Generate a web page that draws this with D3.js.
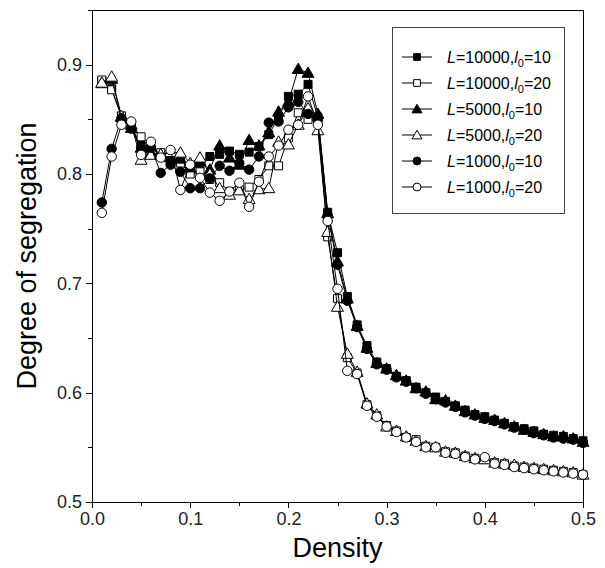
<!DOCTYPE html>
<html lang="en">
	<head>
		<meta charset="utf-8">
		<title>Degree of segregation vs density</title>
		<style type="text/css">
			body {
				margin: 0;
				background-color: white;
				font-family: Arial, "Liberation Sans", sans-serif;
			}
			svg {
				display: block;
				background-color: white;
			}
			.axis path,
			.axis line {
				fill: none;
				stroke: black;
				stroke-width: 1px;
				shape-rendering: crispEdges;
			}
			.axis text {
				font-family: Arial, "Liberation Sans", sans-serif;
				font-size: 18px;
				fill: #222;
			}
			path.line {
				fill: none;
				stroke: black;
				stroke-width: 1px;
			}
			text.title {
				font-size: 27px;
				fill: black;
			}
			text.leglabel {
				font-size: 16px;
				fill: black;
			}
		</style>
	</head>
	<body>
		<script type="text/javascript" src="https://cdnjs.cloudflare.com/ajax/libs/d3/7.8.5/d3.min.js"></script>
		<script type="text/javascript">

			// x values: density 0.01 .. 0.50
			var densities = [];
			for (var i = 1; i <= 50; i++) densities.push(i / 100);

			var sq10 = [0.885, 0.878, 0.853, 0.843, 0.826, 0.824, 0.818, 0.816, 0.811, 0.803,
				0.809, 0.816, 0.818, 0.821, 0.818, 0.820, 0.825, 0.836, 0.852, 0.871,
				0.873, 0.882, 0.852, 0.765, 0.728, 0.688, 0.662, 0.643, 0.628, 0.622,
				0.615, 0.611, 0.605, 0.600, 0.596, 0.592, 0.588, 0.584, 0.580, 0.578,
				0.575, 0.572, 0.569, 0.567, 0.565, 0.562, 0.561, 0.560, 0.558, 0.556];

			var sq20 = [0.886, 0.877, 0.853, 0.845, 0.834, 0.822, 0.8195, 0.816, 0.810, 0.800,
				0.802, 0.795, 0.792, 0.784, 0.786, 0.788, 0.795, 0.8075, 0.8075, 0.833,
				0.856, 0.850, 0.848, 0.7425, 0.686, 0.632, 0.618, 0.589, 0.579, 0.570,
				0.565, 0.559, 0.557, 0.551, 0.550, 0.546, 0.545, 0.542, 0.540, 0.539,
				0.536, 0.535, 0.533, 0.532, 0.531, 0.530, 0.529, 0.528, 0.527, 0.525];

			var tri10 = [0.883, 0.887, 0.852, 0.842, 0.824, 0.819, 0.818, 0.815, 0.814, 0.806,
				0.812, 0.804, 0.826, 0.815, 0.8085, 0.831, 0.826, 0.838, 0.857, 0.866,
				0.896, 0.8925, 0.855, 0.764, 0.720, 0.686, 0.661, 0.641, 0.627, 0.622,
				0.616, 0.611, 0.604, 0.601, 0.594, 0.593, 0.588, 0.583, 0.580, 0.577,
				0.575, 0.572, 0.569, 0.566, 0.564, 0.562, 0.560, 0.560, 0.558, 0.555];

			var tri20 = [0.8835, 0.889, 0.853, 0.845, 0.813, 0.8175, 0.818, 0.820, 0.8195, 0.810,
				0.815, 0.800, 0.787, 0.781, 0.785, 0.777, 0.786, 0.787, 0.8295, 0.827,
				0.845, 0.860, 0.840, 0.747, 0.6785, 0.6355, 0.619, 0.590, 0.580, 0.569,
				0.565, 0.560, 0.556, 0.551, 0.550, 0.546, 0.545, 0.542, 0.540, 0.539,
				0.536, 0.535, 0.534, 0.532, 0.531, 0.530, 0.529, 0.528, 0.527, 0.525];

			var circ10 = [0.774, 0.823, 0.851, 0.8415, 0.824, 0.824, 0.801, 0.8085, 0.802, 0.787,
				0.787, 0.796, 0.8075, 0.803, 0.810, 0.804, 0.816, 0.847, 0.848, 0.861,
				0.866, 0.855, 0.850, 0.762, 0.717, 0.684, 0.660, 0.640, 0.626, 0.621,
				0.614, 0.610, 0.604, 0.599, 0.594, 0.591, 0.587, 0.582, 0.579, 0.576,
				0.574, 0.571, 0.568, 0.566, 0.563, 0.561, 0.559, 0.558, 0.557, 0.554];

			var circ20 = [0.7645, 0.816, 0.845, 0.848, 0.8175, 0.8295, 0.815, 0.822, 0.7855, 0.8085,
				0.7965, 0.783, 0.7755, 0.784, 0.792, 0.770, 0.793, 0.816, 0.826, 0.8405,
				0.845, 0.871, 0.845, 0.757, 0.695, 0.620, 0.617, 0.588, 0.578, 0.569,
				0.564, 0.559, 0.555, 0.550, 0.550, 0.545, 0.544, 0.541, 0.539, 0.541,
				0.535, 0.534, 0.532, 0.531, 0.530, 0.529, 0.528, 0.527, 0.526, 0.525];

			var seriesL = ["10000", "10000", "5000", "5000", "1000", "1000"];
			var seriesL0 = ["10", "20", "10", "20", "10", "20"];
			var seriesValues = [sq10, sq20, tri10, tri20, circ10, circ20];
			var seriesSymbols = ["square", "square", "triangle", "triangle", "circle", "circle"];
			var seriesFilled = [true, false, true, false, true, false];

			var xTicks = [0, 0.1, 0.2, 0.3, 0.4, 0.5];
			var yTicks = [0.5, 0.6, 0.7, 0.8, 0.9];

			var fullwidth = 605;
			var fullheight = 568;
			var margin = { top: 10, right: 22, bottom: 66, left: 92 };

			var xScale = d3.scaleLinear()
				.domain([0, 0.5])
				.range([margin.left, fullwidth - margin.right]);

			var yScale = d3.scaleLinear()
				.domain([0.5, 0.95])
				.range([fullheight - margin.bottom, margin.top]);

			var svg = d3.select("body")
				.append("svg")
				.attr("width", fullwidth)
				.attr("height", fullheight);

			// frame (top & right)
			svg.append("rect")
				.attr("x", xScale(0))
				.attr("y", yScale(0.95))
				.attr("width", xScale(0.5) - xScale(0))
				.attr("height", yScale(0.5) - yScale(0.95))
				.attr("fill", "none")
				.attr("stroke", "black")
				.attr("shape-rendering", "crispEdges");

			// minor ticks
			svg.append("g")
				.attr("class", "x axis")
				.attr("transform", "translate(0," + yScale(0.5) + ")")
				.call(d3.axisBottom(xScale).tickValues(d3.range(0.05, 0.5, 0.1)).tickSize(4).tickFormat(""));

			svg.append("g")
				.attr("class", "y axis")
				.attr("transform", "translate(" + xScale(0) + ",0)")
				.call(d3.axisLeft(yScale).tickValues([0.55, 0.65, 0.75, 0.85]).tickSize(4).tickFormat(""));

			// major ticks
			svg.append("g")
				.attr("class", "x axis")
				.attr("transform", "translate(0," + yScale(0.5) + ")")
				.call(d3.axisBottom(xScale).tickValues(xTicks).tickSize(6).tickSizeOuter(0).tickPadding(4).tickFormat(d3.format(".1f")));

			svg.append("g")
				.attr("class", "y axis")
				.attr("transform", "translate(" + xScale(0) + ",0)")
				.call(d3.axisLeft(yScale).tickValues(yTicks).tickSize(6).tickSizeOuter(0).tickPadding(4).tickFormat(d3.format(".1f")));

			// axis titles
			svg.append("text")
				.attr("class", "title")
				.attr("x", (xScale(0) + xScale(0.5)) / 2)
				.attr("y", 557)
				.attr("text-anchor", "middle")
				.text("Density");

			svg.append("text")
				.attr("class", "title")
				.attr("transform", "translate(36," + (yScale(0.5) + yScale(0.95)) / 2 + ") rotate(-90)")
				.attr("text-anchor", "middle")
				.text("Degree of segregation");

			var symbolType = {
				square: d3.symbolSquare,
				triangle: d3.symbolTriangle,
				circle: d3.symbolCircle
			};
			var symbolSize = { square: 64, triangle: 62, circle: 70 };

			var line = d3.line()
				.x(function(d) { return xScale(d.x); })
				.y(function(d) { return yScale(d.y); });

			var dataset = seriesValues.map(function(vals, k) {
				return {
					symbol: seriesSymbols[k],
					filled: seriesFilled[k],
					points: vals.map(function(v, i) { return { x: densities[i], y: v }; })
				};
			});

			var groups = svg.selectAll("g.series")
				.data(dataset)
				.enter()
				.append("g")
				.attr("class", "series");

			groups.append("path")
				.attr("class", "line")
				.attr("d", function(d) { return line(d.points); });

			groups.each(function(s) {
				d3.select(this).selectAll("path.marker")
					.data(s.points)
					.enter()
					.append("path")
					.attr("class", "marker")
					.attr("transform", function(d) {
						var dy = s.symbol == "triangle" ? 1 : 0;
						return "translate(" + xScale(d.x) + "," + (yScale(d.y) + dy) + ")";
					})
					.attr("d", d3.symbol().type(symbolType[s.symbol]).size(symbolSize[s.symbol]))
					.attr("fill", s.filled ? "black" : "white")
					.attr("stroke", "black")
					.attr("stroke-width", 1);
			});

			// legend
			var legend = svg.append("g")
				.attr("transform", "translate(392,27)");

			legend.append("rect")
				.attr("width", 172)
				.attr("height", 186)
				.attr("fill", "white")
				.attr("stroke", "#444")
				.attr("stroke-width", 1)
				.attr("shape-rendering", "crispEdges");

			var rows = legend.selectAll("g.row")
				.data(dataset)
				.enter()
				.append("g")
				.attr("class", "row")
				.attr("transform", function(d, i) { return "translate(0," + (30 + i * 26) + ")"; });

			rows.append("line")
				.attr("x1", 10)
				.attr("x2", 40)
				.attr("stroke", "black")
				.attr("stroke-width", 1);

			rows.append("path")
				.attr("transform", function(d) { return "translate(25," + (d.symbol == "triangle" ? 1 : 0) + ")"; })
				.attr("d", function(d) { return d3.symbol().type(symbolType[d.symbol]).size(symbolSize[d.symbol] * 0.7)(); })
				.attr("fill", function(d) { return d.filled ? "black" : "white"; })
				.attr("stroke", "black");

			var labels = rows.append("text")
				.attr("class", "leglabel")
				.attr("x", 55)
				.attr("y", 6);

			labels.append("tspan").attr("font-style", "italic").text("L");
			labels.append("tspan").text(function(d, i) { return "=" + seriesL[i] + ","; });
			labels.append("tspan").attr("font-style", "italic").text("l");
			labels.append("tspan").attr("font-size", "11px").attr("dy", 4).text("0");
			labels.append("tspan").attr("dy", -4).text(function(d, i) { return "=" + seriesL0[i]; });

		</script>
	</body>
</html>
